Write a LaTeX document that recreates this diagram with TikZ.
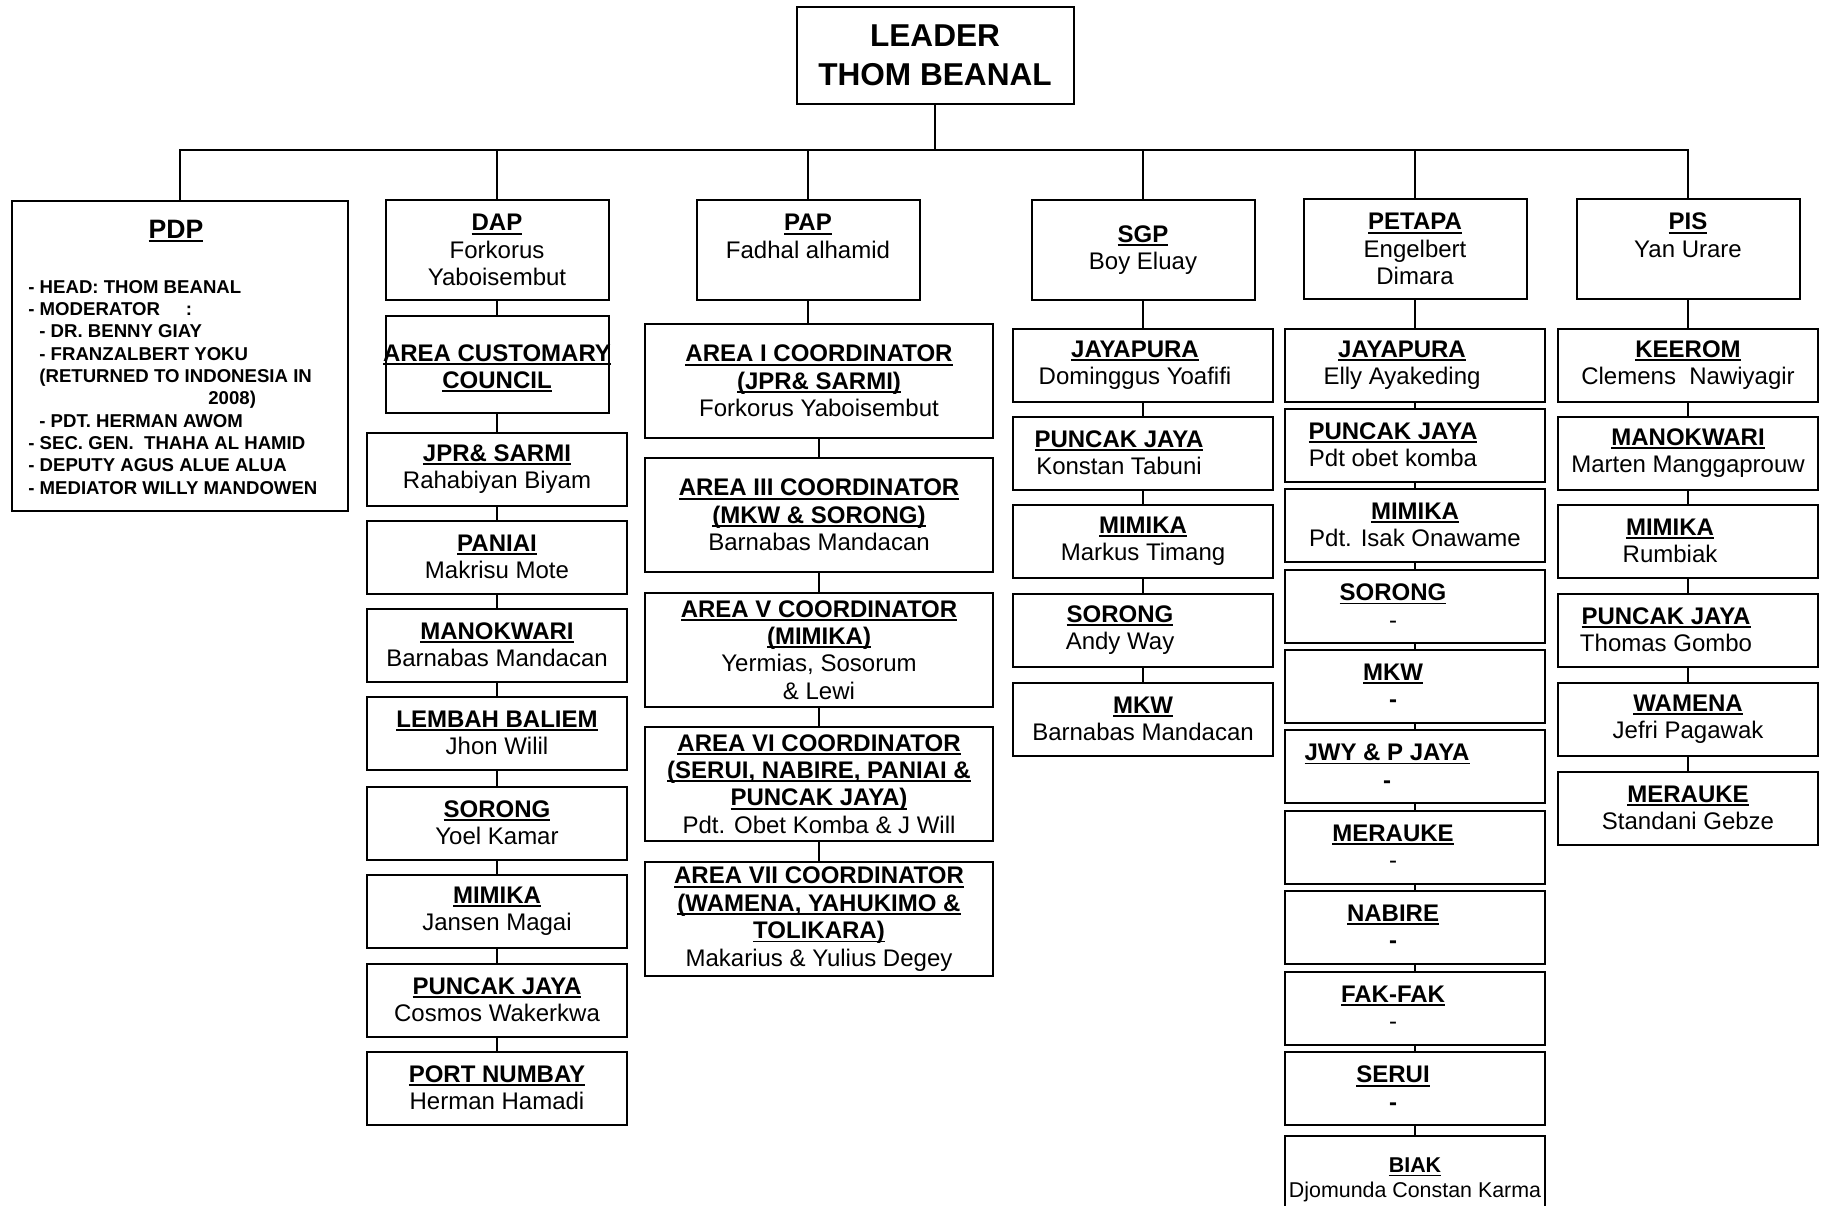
\documentclass[tikz,border=0pt]{standalone}
\usepackage{fontspec}
\setmainfont{Liberation Sans}
\usepackage{tikz}

\newcommand{\hdr}[1]{{\bfseries\setbox0\hbox{#1}\rlap{\rule[-1.9pt]{\wd0}{0.95pt}}\box0}}
\newcommand{\pad}[1]{\rule{#1}{0pt}}

\begin{document}
\begin{tikzpicture}[
    x=0.5pt, y=-0.5pt,
    box/.style={rectangle, draw, line width=1pt, inner sep=0pt,
                align=center, font=\fontsize{12}{13.7}\selectfont},
    headbox/.style={box, minimum width=111.5pt, minimum height=50pt},
    subbox/.style={box, minimum width=130pt, minimum height=36.5pt},
    areabox/.style={box, minimum width=174pt, minimum height=57pt},
    conn/.style={line width=0.8pt},
  ]
  \useasboundingbox (0,0) rectangle (1823,1205);

  % ── Leader ──────────────────────────────────────
  \node[box, minimum width=138.5pt, minimum height=48.5pt,
        font=\bfseries\fontsize{15.8}{19.5}\selectfont] (lead) at (935,55)
        {LEADER\\THOM BEANAL};
  \coordinate (bus) at (935,150);

  % ── PDP ──────────────────────────────────────
  \node[box, minimum width=168pt, minimum height=155pt] (pdp) at (180,356) {};
  \node[anchor=base, font=\fontsize{13.3}{15}\selectfont] (pdptitle) at (176,238)
        {\hdr{PDP}};
  \node[anchor=north west, inner sep=0pt, align=left,
        font=\bfseries\fontsize{9.3}{11.15}\selectfont] (pdplist) at (28,280)
        {- HEAD: THOM BEANAL\\
         - MODERATOR\hspace{13pt}:\\
         \hspace*{5.5pt}- DR. BENNY GIAY\\
         \hspace*{5.5pt}- FRANZALBERT YOKU\\
         \hspace*{5.5pt}(RETURNED TO INDONESIA IN\\
         \hspace*{90pt}2008)\\
         \hspace*{5.5pt}- PDT. HERMAN AWOM\\
         - SEC. GEN.\ \ THAHA AL HAMID\\
         - DEPUTY AGUS ALUE ALUA\\
         - MEDIATOR WILLY MANDOWEN};

  % ── DAP ──────────────────────────────────────
  \node[headbox] (dap) at (497,250) {\hdr{DAP}\\Forkorus\\Yaboisembut};
  \node[box, minimum width=111.5pt, minimum height=48.5pt] (dapcc) at (497,364)
        {\rule{0pt}{12.6pt}\makebox[0pt]{\hdr{AREA CUSTOMARY}}\\\hdr{COUNCIL}};
  \node[subbox] (dap1) at (497,469)  {\hdr{JPR\& SARMI}\\Rahabiyan Biyam};
  \node[subbox] (dap2) at (497,557)  {\hdr{PANIAI}\\Makrisu Mote};
  \node[subbox] (dap3) at (497,645)  {\hdr{MANOKWARI}\\Barnabas Mandacan};
  \node[subbox] (dap4) at (497,733)  {\hdr{LEMBAH BALIEM}\\Jhon Wilil};
  \node[subbox] (dap5) at (497,823)  {\hdr{SORONG}\\Yoel Kamar};
  \node[subbox] (dap6) at (497,911)  {\hdr{MIMIKA}\\Jansen Magai};
  \node[subbox] (dap7) at (497,1000) {\hdr{PUNCAK JAYA}\\Cosmos Wakerkwa};
  \node[subbox] (dap8) at (497,1088) {\hdr{PORT NUMBAY}\\Herman Hamadi};

  % ── PAP ──────────────────────────────────────
  \node[headbox] (pap) at (808,250) {\hdr{PAP}\\Fadhal alhamid\\\mbox{}};
  \node[areabox] (pap1) at (819,381)
        {\hdr{AREA I COORDINATOR}\\\hdr{(JPR\& SARMI)}\\Forkorus Yaboisembut};
  \node[areabox] (pap2) at (819,515)
        {\hdr{AREA III COORDINATOR}\\\hdr{(MKW \& SORONG)}\\Barnabas Mandacan};
  \node[areabox] (pap3) at (819,650)
        {\hdr{AREA V COORDINATOR}\\\hdr{(MIMIKA)}\\Yermias, Sosorum\\\& Lewi};
  \node[areabox] (pap4) at (819,784)
        {\hdr{AREA VI COORDINATOR}\\\hdr{(SERUI, NABIRE, PANIAI \&}\\
         \hdr{PUNCAK JAYA)}\\Pdt. Obet Komba \& J Will};
  \node[areabox] (pap5) at (819,919)
        {\hdr{AREA VII COORDINATOR}\\\hdr{(WAMENA, YAHUKIMO \&}\\
         \hdr{TOLIKARA)}\\Makarius \& Yulius Degey};

  % ── SGP ──────────────────────────────────────
  \node[headbox] (sgp) at (1143,250) {\hdr{SGP}\\Boy Eluay};
  \node[subbox] (sgp1) at (1143,365) {\hdr{JAYAPURA}\pad{8pt}\\Dominggus Yoafifi\pad{8pt}};
  \node[subbox] (sgp2) at (1143,453) {\hdr{PUNCAK JAYA}\pad{24pt}\\Konstan Tabuni\pad{24pt}};
  \node[subbox] (sgp3) at (1143,541) {\hdr{MIMIKA}\\Markus Timang};
  \node[subbox] (sgp4) at (1143,630) {\hdr{SORONG}\pad{23pt}\\Andy Way\pad{23pt}};
  \node[subbox] (sgp5) at (1143,719) {\hdr{MKW}\\Barnabas Mandacan};

  % ── PETAPA ──────────────────────────────────────
  \node[headbox] (ptp) at (1415,249) {\hdr{PETAPA}\\Engelbert\\Dimara};
  \node[subbox] (ptp1) at (1415,365)  {\hdr{JAYAPURA}\pad{13pt}\\Elly Ayakeding\pad{13pt}};
  \node[subbox] (ptp2) at (1415,445)  {\hdr{PUNCAK JAYA}\pad{22pt}\\Pdt obet komba\pad{22pt}};
  \node[subbox] (ptp3) at (1415,525)  {\hdr{MIMIKA}\\Pdt. Isak Onawame};
  \node[subbox] (ptp4) at (1415,606)  {\hdr{SORONG}\pad{22pt}\\-\pad{22pt}};
  \node[subbox] (ptp5) at (1415,686)  {\hdr{MKW}\pad{22pt}\\\textbf{-}\pad{22pt}};
  \node[subbox] (ptp6) at (1415,766)  {\hdr{JWY \& P JAYA}\pad{28pt}\\\textbf{-}\pad{28pt}};
  \node[subbox] (ptp7) at (1415,847)  {\hdr{MERAUKE}\pad{22pt}\\-\pad{22pt}};
  \node[subbox] (ptp8) at (1415,927)  {\hdr{NABIRE}\pad{22pt}\\\textbf{-}\pad{22pt}};
  \node[subbox] (ptp9) at (1415,1008) {\hdr{FAK-FAK}\pad{22pt}\\-\pad{22pt}};
  \node[subbox] (ptp10) at (1415,1088) {\hdr{SERUI}\pad{22pt}\\\textbf{-}\pad{22pt}};
  \node[subbox, minimum height=44pt, font=\fontsize{10.7}{12.5}\selectfont]
        (ptp11) at (1415,1180) {\hdr{BIAK}\\Djomunda Constan Karma};

  % ── PIS ──────────────────────────────────────
  \node[headbox] (pis) at (1688,249) {\hdr{PIS}\\Yan Urare\\\mbox{}};
  \node[subbox] (pis1) at (1688,365) {\hdr{KEEROM}\\Clemens\ \ Nawiyagir};
  \node[subbox] (pis2) at (1688,453) {\hdr{MANOKWARI}\\Marten Manggaprouw};
  \node[subbox] (pis3) at (1688,541) {\hdr{MIMIKA}\pad{18pt}\\Rumbiak\pad{18pt}};
  \node[subbox] (pis4) at (1688,630) {\hdr{PUNCAK JAYA}\pad{22pt}\\Thomas Gombo\pad{22pt}};
  \node[subbox] (pis5) at (1688,719) {\hdr{WAMENA}\\Jefri Pagawak};
  \node[subbox] (pis6) at (1688,808) {\hdr{MERAUKE}\\Standani Gebze};

  % ── connectors ──────────────────────────────────────
  \foreach \c in {pdp,dap,pap,sgp,ptp,pis}
    \draw[conn] (lead.south) -- (bus) -| (\c.north);

  \foreach \a/\b in {dap/dapcc, dapcc/dap1, sgp/sgp1, ptp/ptp1, pis/pis1}
    \draw[conn] (\a.south) -- (\b.north);
  \draw[conn] (pap.south) -- (pap.south |- pap1.north);
  \foreach \i [count=\j from 2] in {1,...,7}
    \draw[conn] (dap\i.south) -- (dap\j.north);
  \foreach \i [count=\j from 2] in {1,...,4}
    \draw[conn] (pap\i.south) -- (pap\j.north);
  \foreach \i [count=\j from 2] in {1,...,4}
    \draw[conn] (sgp\i.south) -- (sgp\j.north);
  \foreach \i [count=\j from 2] in {1,...,10}
    \draw[conn] (ptp\i.south) -- (ptp\j.north);
  \foreach \i [count=\j from 2] in {1,...,5}
    \draw[conn] (pis\i.south) -- (pis\j.north);

\end{tikzpicture}
\end{document}
